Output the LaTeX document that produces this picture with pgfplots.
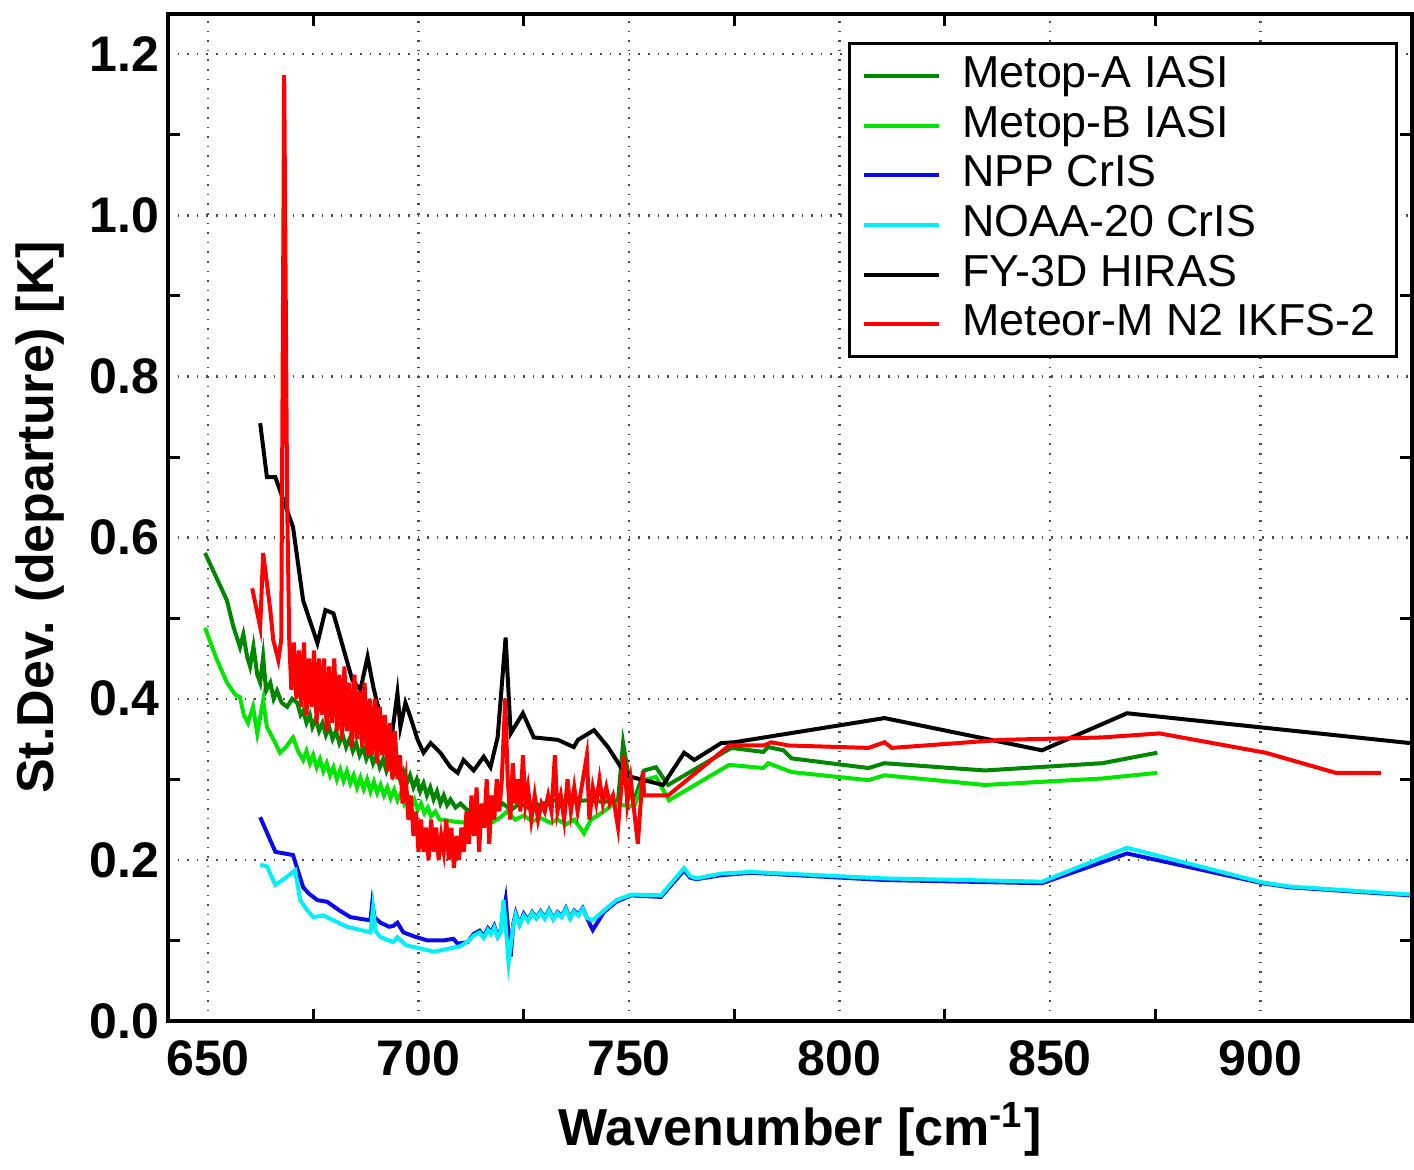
\documentclass[border=0pt]{standalone}
\usepackage{fontspec}
\setmainfont{Liberation Sans}
\usepackage{pgfplots}
\pgfplotsset{compat=1.18}

\definecolor{mtA}{RGB}{0,135,0}
\definecolor{mtB}{RGB}{0,230,0}
\definecolor{npp}{RGB}{10,10,235}
\definecolor{n20}{RGB}{0,240,250}
\definecolor{fy3}{RGB}{0,0,0}
\definecolor{ikfs}{RGB}{255,0,0}

\begin{document}
\begin{tikzpicture}
\begin{axis}[
    scale only axis,
    width=311pt, height=251.75pt,
    xmin=640.5, xmax=936, ymin=0, ymax=1.25,
    xtick={650,700,...,900},
    ytick={0,0.2,0.4,0.6,0.8,1.0,1.2},
    minor x tick num=1, minor y tick num=1,
    major tick length=0pt, minor tick length=3pt,
    tick pos=both, tick align=inside,
    every tick/.style={black, line width=0.75pt},
    axis line style={line width=1pt},
    grid=major,
    major grid style={dotted, line width=0.6pt, black!70},
    /pgf/number format/assume math mode=true,
    ticklabel style={font=\bfseries\fontsize{12.5}{14}\selectfont},
    yticklabel style={anchor=east, inner xsep=0pt, xshift=-2pt,
        /pgf/number format/fixed, /pgf/number format/fixed zerofill,
        /pgf/number format/precision=1},
    xticklabel style={anchor=base, yshift=-13.5pt, /pgf/number format/1000 sep={}},
    xlabel={Wavenumber [cm\textsuperscript{-1}]},
    ylabel={St.Dev. (departure) [K]},
    every axis x label/.style={at={(rel axis cs:0.508,0)}, yshift=-31pt, anchor=base,
        font=\bfseries\fontsize{13}{15}\selectfont},
    every axis y label/.style={at={(rel axis cs:-0.0828,0.5)}, rotate=90, anchor=south,
        inner sep=0pt, font=\bfseries\fontsize{13}{15}\selectfont},
    legend cell align=left,
    legend image code/.code={\path (-1pt,0pt) (21pt,0pt);
        \draw[#1] (0pt,0pt) -- (18.75pt,0pt);},
    legend style={at={(rel axis cs:0.9887,0.972)}, anchor=north east,
        draw=black, line width=0.75pt, fill=white,
        font=\fontsize{11.2}{13}\selectfont,
        inner xsep=2pt, inner ysep=3pt,
        nodes={inner xsep=3.2pt, inner ysep=0pt, text height=8pt, text depth=2.3pt},
        row sep=2.1pt},
]

% Metop-A IASI
\addplot[mtA, line width=1pt] coordinates {
(649.3,0.581) (651.5,0.556) (654.5,0.522) (656.0,0.490) (657.6,0.464) (658.4,0.480)
(659.3,0.452) (660.0,0.440) (660.8,0.465) (661.7,0.430) (662.4,0.420) (663.1,0.452)
(663.8,0.410) (664.8,0.420) (665.6,0.400) (666.4,0.410) (667.5,0.395) (668.8,0.390)
(670.0,0.400) (671.2,0.395) (672.0,0.380) (672.6,0.385) (673.4,0.370) (674.2,0.380)
(674.8,0.365) (675.6,0.375) (676.4,0.360) (677.2,0.370) (678.0,0.355) (678.8,0.365)
(679.6,0.350) (680.4,0.360) (681.2,0.345) (682.0,0.355) (682.8,0.340) (683.6,0.350)
(684.4,0.335) (685.2,0.345) (686.0,0.330) (686.8,0.340) (687.6,0.325) (688.4,0.335)
(689.2,0.320) (690.0,0.330) (690.8,0.315) (691.6,0.325) (692.4,0.310) (693.2,0.320)
(694.0,0.305) (694.8,0.315) (695.6,0.300) (696.4,0.310) (697.2,0.295) (698.0,0.305)
(698.8,0.290) (699.6,0.300) (700.4,0.285) (701.2,0.295) (702.0,0.280) (702.8,0.290)
(703.6,0.275) (704.4,0.285) (705.2,0.270) (706.0,0.280) (706.8,0.268) (707.6,0.275)
(708.8,0.265) (710.0,0.270) (711.5,0.262) (713.1,0.262) (714.5,0.258) (716.4,0.266)
(718.0,0.260) (720.0,0.270) (722.0,0.262) (724.0,0.270) (726.0,0.265) (727.4,0.270)
(729.0,0.268) (731.4,0.274) (735.0,0.272) (740.0,0.274) (744.0,0.272) (747.4,0.274)
(748.6,0.345) (751.0,0.270) (753.6,0.311) (756.4,0.315) (759.3,0.293) (774.3,0.339)
(781.9,0.334) (783.1,0.340) (786.7,0.336) (788.6,0.326) (806.9,0.314) (810.7,0.320)
(834.5,0.311) (862.4,0.320) (875.5,0.333)
};
\addlegendentry{Metop-A IASI}

% Metop-B IASI
\addplot[mtB, line width=1pt] coordinates {
(649.3,0.488) (652.0,0.450) (654.5,0.420) (656.5,0.405) (657.6,0.402) (658.5,0.380)
(659.5,0.370) (660.7,0.390) (661.7,0.357) (663.1,0.398) (664.0,0.365) (665.0,0.355)
(666.0,0.345) (667.1,0.333) (668.5,0.340) (670.2,0.352) (671.4,0.335) (672.6,0.324)
(673.4,0.335) (674.2,0.320) (675.0,0.330) (675.8,0.315) (676.6,0.325) (677.4,0.310)
(678.2,0.320) (679.0,0.305) (679.8,0.315) (680.6,0.300) (681.4,0.312) (682.2,0.298)
(683.0,0.310) (683.8,0.295) (684.6,0.305) (685.4,0.290) (686.2,0.302) (687.0,0.288)
(687.8,0.300) (688.6,0.285) (689.4,0.297) (690.2,0.283) (691.0,0.293) (691.8,0.280)
(692.6,0.290) (693.4,0.277) (694.2,0.287) (695.0,0.274) (695.8,0.283) (696.6,0.270)
(697.4,0.280) (698.2,0.266) (699.0,0.275) (699.8,0.262) (700.6,0.270) (701.4,0.258)
(702.2,0.265) (703.0,0.254) (704.0,0.260) (705.0,0.250) (706.9,0.249) (709.0,0.247)
(712.4,0.246) (715.0,0.250) (717.0,0.245) (719.5,0.253) (721.0,0.260) (723.0,0.250)
(725.0,0.255) (727.0,0.248) (729.0,0.252) (731.4,0.246) (733.0,0.250) (735.0,0.244)
(737.0,0.250) (739.3,0.233) (741.0,0.250) (744.0,0.260) (746.4,0.270) (751.2,0.266)
(753.6,0.299) (756.4,0.303) (759.5,0.274) (773.8,0.318) (781.9,0.314) (783.1,0.320)
(788.6,0.309) (806.9,0.299) (810.7,0.305) (834.5,0.293) (862.4,0.301) (875.5,0.308)
};
\addlegendentry{Metop-B IASI}

% NPP CrIS
\addplot[npp, line width=1pt] coordinates {
(662.4,0.253) (666.0,0.210) (670.2,0.206) (672.6,0.166) (674.0,0.158) (676.0,0.150)
(678.3,0.148) (681.0,0.138) (683.8,0.129) (686.0,0.127) (688.6,0.125) (689.0,0.146)
(689.6,0.128) (691.0,0.122) (693.0,0.117) (694.0,0.118) (695.0,0.122) (696.4,0.110)
(699.0,0.105) (702.1,0.100) (705.9,0.100) (708.3,0.102) (709.3,0.096) (711.7,0.098)
(713.1,0.108) (714.5,0.112) (715.5,0.105) (716.5,0.115) (717.2,0.110) (718.0,0.118)
(718.8,0.105) (719.5,0.112) (720.7,0.150) (721.5,0.100) (721.9,0.080) (722.5,0.120)
(723.1,0.134) (724.0,0.120) (725.0,0.133) (726.0,0.125) (727.0,0.135) (728.0,0.128)
(729.0,0.136) (730.0,0.128) (731.0,0.138) (732.0,0.127) (733.0,0.135) (734.0,0.130)
(735.0,0.140) (736.0,0.128) (737.0,0.137) (738.0,0.132) (739.0,0.140) (740.0,0.128)
(741.4,0.113) (744.0,0.135) (747.0,0.148) (750.5,0.156) (757.6,0.154) (763.1,0.187)
(764.5,0.178) (766.0,0.176) (771.9,0.181) (779.0,0.184) (810.7,0.175) (848.1,0.171)
(868.3,0.208) (900.5,0.171) (906.9,0.166) (935.5,0.156)
};
\addlegendentry{NPP CrIS}

% NOAA-20 CrIS
\addplot[n20, line width=1pt] coordinates {
(662.4,0.194) (664.0,0.192) (666.0,0.169) (668.0,0.176) (670.7,0.187) (671.9,0.150)
(673.5,0.138) (675.0,0.129) (677.4,0.131) (681.0,0.122) (683.0,0.117) (688.6,0.110)
(689.2,0.140) (689.8,0.112) (691.0,0.104) (694.0,0.098) (695.0,0.104) (697.1,0.094)
(702.1,0.088) (703.6,0.086) (708.3,0.091) (710.0,0.093) (712.0,0.100) (713.1,0.106)
(714.5,0.110) (715.5,0.103) (716.5,0.113) (717.2,0.108) (718.0,0.116) (718.8,0.104)
(719.5,0.110) (720.2,0.150) (721.4,0.073) (722.5,0.118) (723.1,0.132) (724.0,0.119)
(725.0,0.131) (726.0,0.124) (727.0,0.134) (728.0,0.127) (729.0,0.135) (730.0,0.127)
(731.0,0.137) (732.0,0.126) (733.0,0.134) (734.0,0.129) (735.0,0.139) (736.0,0.127)
(737.0,0.136) (738.0,0.131) (739.0,0.139) (740.0,0.128) (741.4,0.125) (744.0,0.137)
(747.0,0.150) (750.5,0.157) (757.6,0.156) (763.1,0.190) (764.5,0.180) (766.0,0.177)
(771.9,0.183) (779.0,0.185) (810.7,0.177) (848.1,0.173) (868.3,0.215) (900.5,0.172)
(906.9,0.167) (935.5,0.157)
};
\addlegendentry{NOAA-20 CrIS}

% FY-3D HIRAS
\addplot[fy3, line width=1pt] coordinates {
(662.4,0.742) (664.0,0.675) (666.0,0.675) (670.2,0.613) (672.6,0.522) (676.0,0.469)
(677.9,0.510) (679.8,0.506) (684.3,0.423) (686.2,0.411) (687.9,0.452) (689.3,0.414)
(691.0,0.377) (693.3,0.340) (695.0,0.407) (695.7,0.365) (696.9,0.395) (698.1,0.377)
(699.8,0.349) (701.2,0.333) (702.9,0.345) (705.2,0.333) (707.6,0.315) (709.3,0.308)
(710.7,0.324) (713.1,0.311) (715.5,0.328) (717.1,0.315) (718.8,0.352) (720.7,0.476)
(721.9,0.357) (724.8,0.382) (727.4,0.352) (733.1,0.349) (736.9,0.340) (737.9,0.349)
(741.7,0.361) (745.0,0.340) (748.1,0.315) (750.5,0.303) (758.1,0.293) (763.1,0.333)
(765.5,0.324) (771.9,0.345) (775.0,0.346) (810.7,0.376) (848.1,0.336) (868.3,0.382)
(935.5,0.345)
};
\addlegendentry{FY-3D HIRAS}

% Meteor-M N2 IKFS-2
\addplot[ikfs, line width=1pt] coordinates {
(660.5,0.537) (662.4,0.489) (663.1,0.581) (664.8,0.510) (665.5,0.473) (666.7,0.448)
(667.4,0.473) (668.1,1.174) (668.8,0.646) (669.3,0.473) (669.8,0.411)
(670.4,0.47) (671.0,0.40) (671.6,0.46) (672.2,0.39) (672.8,0.47) (673.4,0.38)
(674.0,0.45) (674.6,0.39) (675.2,0.46) (675.8,0.37) (676.4,0.45) (677.0,0.38)
(677.6,0.45) (678.2,0.36) (678.8,0.44) (679.4,0.37) (680.0,0.45) (680.6,0.36)
(681.2,0.43) (681.8,0.35) (682.4,0.44) (683.0,0.36) (683.6,0.42) (684.2,0.34)
(684.8,0.43) (685.4,0.35) (686.0,0.41) (686.6,0.34) (687.2,0.42) (687.8,0.33)
(688.4,0.40) (689.0,0.33) (689.6,0.40) (690.2,0.32) (690.8,0.39) (691.4,0.33)
(692.0,0.38) (692.6,0.31) (693.2,0.37) (693.8,0.30) (694.4,0.36) (695.0,0.30)
(695.6,0.33) (696.2,0.27) (697.0,0.30) (697.6,0.25) (698.2,0.28) (698.8,0.23)
(699.4,0.26) (700.0,0.21) (700.6,0.25) (701.2,0.21) (701.8,0.24) (702.4,0.20)
(703.0,0.25) (703.6,0.21) (704.2,0.24) (704.8,0.20) (705.4,0.23) (706.0,0.21)
(706.6,0.25) (707.2,0.20) (707.8,0.24) (708.4,0.19) (709.0,0.23) (709.6,0.20)
(710.2,0.24) (710.8,0.21) (711.4,0.26) (712.0,0.22) (712.6,0.28) (713.2,0.23)
(713.8,0.29) (714.4,0.21) (715.0,0.27) (715.6,0.24) (716.2,0.30) (716.8,0.22)
(717.4,0.28) (718.0,0.25) (718.6,0.30) (719.2,0.26) (719.8,0.30) (720.6,0.40)
(721.2,0.30) (721.8,0.25) (722.4,0.32) (723.0,0.27) (723.6,0.30) (724.2,0.26)
(724.8,0.33) (725.4,0.27) (726.0,0.29) (726.8,0.25) (727.6,0.28) (728.4,0.25)
(729.2,0.27) (730.0,0.26) (730.8,0.28) (731.6,0.26) (732.4,0.33) (733.0,0.26)
(733.8,0.28) (734.6,0.25) (735.4,0.30) (736.2,0.26) (737.0,0.29) (737.8,0.26)
(740.0,0.33) (740.6,0.25) (741.4,0.29) (742.2,0.27) (743.0,0.30) (743.8,0.27)
(744.6,0.29) (745.4,0.27) (746.2,0.28) (747.4,0.24) (748.8,0.33) (749.6,0.27)
(750.4,0.30) (752.1,0.22) (753.3,0.31) (753.6,0.28) (759.3,0.28) (773.8,0.342)
(782.1,0.342) (783.8,0.346) (787.9,0.342) (806.9,0.339) (810.7,0.346) (812.4,0.339)
(838.6,0.349) (862.4,0.352) (876.0,0.357) (901.2,0.333) (917.9,0.308) (928.6,0.308)
};
\addlegendentry{Meteor-M N2 IKFS-2}

\end{axis}
\path ([shift={(-42pt,-33.75pt)}]current axis.south west)
  rectangle ([shift={(0.5pt,3.5pt)}]current axis.north east);
\end{tikzpicture}
\end{document}
